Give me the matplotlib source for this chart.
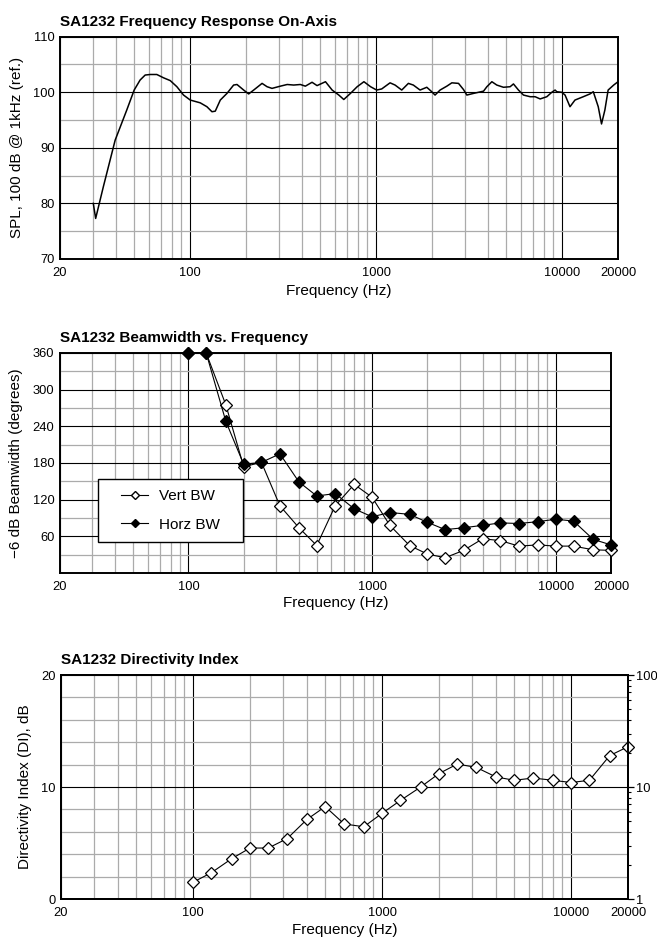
import matplotlib
matplotlib.use('Agg')
import matplotlib.pyplot as plt
from matplotlib.ticker import FixedLocator, FixedFormatter, NullFormatter, LogLocator
from matplotlib.patches import Rectangle
from matplotlib.lines import Line2D

plt.rcParams['font.family'] = ['Liberation Sans', 'DejaVu Sans']

# ---------------- data ----------------
fr_freq = [30.2, 31.1, 34.2, 39.6, 45.7, 50.1, 53.9, 57.4, 61.1, 66.3, 72.1, 78.3, 85, 92.3,
           100.3, 113.5, 123.3, 131.2, 136.7, 145.5, 158, 171.6, 178.9, 194.3, 206.7, 220,
           244, 259.6, 276, 306, 333, 361, 392, 417, 453, 482, 535, 581, 631, 671, 729, 792,
           861, 935, 1008, 1073, 1190, 1266, 1375, 1493, 1587, 1725, 1875, 1993, 2077, 2210,
           2403, 2557, 2777, 2952, 3079, 3345, 3785, 3945, 4197, 4460, 4844, 5262, 5482,
           5834, 6205, 6741, 7170, 7627, 8285, 8814, 9181, 9373, 9968, 10385, 11040, 11742,
           13010, 14130, 14730, 15660, 16310, 17000, 17700, 18960, 20000]
fr_spl = [80.0, 77.3, 83.0, 91.4, 96.8, 100.4, 102.2, 103.1, 103.2, 103.2, 102.6, 102.1, 101.0, 99.5,
          98.6, 98.1, 97.4, 96.5, 96.6, 98.6, 99.8, 101.3, 101.4, 100.4, 99.7, 100.4,
          101.6, 101.0, 100.7, 101.1, 101.4, 101.3, 101.4, 101.1, 101.8, 101.2, 101.9, 100.4, 99.5, 98.7, 99.8, 101.0,
          101.9, 101.0, 100.4, 100.6, 101.7, 101.3, 100.4, 101.6, 101.3, 100.4, 100.9, 100.1, 99.5, 100.4,
          101.1, 101.7, 101.6, 100.5, 99.5, 99.8, 100.2, 101.0, 101.9, 101.3, 100.9, 101.0, 101.5,
          100.4, 99.5, 99.2, 99.2, 98.8, 99.2, 100.0, 100.4, 100.1, 100.0, 99.5, 97.4, 98.6,
          99.2, 99.7, 100.1, 97.4, 94.3, 96.8, 100.4, 101.3, 101.9]

bw_freq = [100, 125, 160, 200, 250, 315, 400, 500, 630, 800, 1000, 1250, 1600, 2000,
           2500, 3150, 4000, 5000, 6300, 8000, 10000, 12500, 16000, 20000]
vert_bw = [360, 360, 275, 174, 181, 110, 74, 45, 110, 145, 124, 78, 45, 31,
           25, 37, 56, 53, 44, 46, 44, 44, 38, 37]
horz_bw = [360, 360, 248, 178, 181, 195, 149, 126, 130, 105, 92, 99, 96, 83,
           71, 74, 78, 82, 81, 84, 88, 85, 55, 46]

di_freq = [100, 125, 160, 200, 250, 315, 400, 500, 630, 800, 1000, 1250, 1600, 2000,
           2500, 3150, 4000, 5000, 6300, 8000, 10000, 12500, 16000, 20000]
di_vals = [1.5, 2.35, 3.6, 4.55, 4.55, 5.4, 7.1, 8.25, 6.7, 6.45, 7.65, 8.8, 10.0, 11.2,
           12.05, 11.75, 10.9, 10.6, 10.8, 10.6, 10.4, 10.6, 12.8, 13.6]

x_ticks = [20, 100, 1000, 10000, 20000]
x_ticklabels = ['20', '100', '1000', '10000', '20000']
x_minor = [m * 10 ** e for e in (1, 2, 3) for m in range(2, 10)
           if 20 < m * 10 ** e < 20000]

titles = ['SA1232 Frequency Response On-Axis', 'SA1232 Beamwidth vs. Frequency',
          'SA1232 Directivity Index']
ylabels = ['SPL, 100 dB @ 1kHz (ref.)', '\u22126 dB Beamwidth (degrees)',
           'Directivity Index (DI), dB']
xlabel = 'Frequency (Hz)'

GRAY = '#ababab'

fig = plt.figure(figsize=(6.57, 9.41), dpi=100)


def style(ax, ylim, ymaj, ymin, title, ylabel, ylab_x, xlab_y):
    ax.set_xscale('log')
    ax.set_xlim(20, 20000)
    ax.set_ylim(*ylim)
    ax.xaxis.set_major_locator(FixedLocator(x_ticks))
    ax.xaxis.set_major_formatter(FixedFormatter(x_ticklabels))
    ax.xaxis.set_minor_locator(FixedLocator(x_minor))
    ax.xaxis.set_minor_formatter(NullFormatter())
    ax.yaxis.set_major_locator(FixedLocator(ymaj))
    ax.yaxis.set_minor_locator(FixedLocator(ymin))
    ax.yaxis.set_minor_formatter(NullFormatter())
    ax.tick_params(which='both', length=0, labelsize=9.3)
    ax.tick_params(axis='y', pad=4)
    ax.tick_params(axis='x', pad=5.5)
    ax.set_axisbelow(True)
    ax.grid(which='minor', color=GRAY, lw=0.9)
    ax.grid(which='major', color='black', lw=0.8)
    for s in ax.spines.values():
        s.set_linewidth(1.4)
        s.set_color('black')
    ax.set_title(title, loc='left', fontsize=11, fontweight='bold', pad=8)
    ax.set_ylabel(ylabel, fontsize=11)
    ax.set_xlabel(xlabel, fontsize=11)
    ax.yaxis.set_label_coords(ylab_x, 0.5)
    ax.xaxis.set_label_coords(0.5, xlab_y)


# ---- top: frequency response ----
ax1 = fig.add_axes([60 / 657, 1 - 259 / 941, 558 / 657, 222.3 / 941])
style(ax1, (70, 110), [70, 80, 90, 100, 110], [75, 85, 95, 105],
      titles[0], ylabels[0], -0.064, -0.112)
ax1.plot(fr_freq, fr_spl, color='black', lw=1.1)

# ---- middle: beamwidth ----
ax2 = fig.add_axes([60 / 657, 1 - 573 / 941, 551 / 657, 220 / 941])
style(ax2, (0, 360), [60, 120, 180, 240, 300, 360], [30, 90, 150, 210, 270, 330],
      titles[1], ylabels[1], -0.068, -0.104)
ax2.plot(bw_freq, vert_bw, color='black', lw=0.8, marker='D', ms=5.8,
         mfc='white', mec='black', mew=0.9, zorder=3, clip_on=False)
ax2.plot(bw_freq, horz_bw, color='black', lw=0.8, marker='D', ms=6.2,
         mfc='black', mec='black', mew=0.9, zorder=4, clip_on=False)
ax2.add_patch(Rectangle((0.069, 0.141), 0.263, 0.286, transform=ax2.transAxes,
                        fc='white', ec='black', lw=1.0, zorder=5))
h_v = Line2D([], [], color='black', lw=0.8, marker='D', ms=4, mfc='white', mec='black')
h_h = Line2D([], [], color='black', lw=0.8, marker='D', ms=4, mfc='black', mec='black')
leg = ax2.legend(handles=[h_v, h_h], labels=['Vert BW', 'Horz BW'], loc='center',
                 bbox_to_anchor=(0.069 + 0.1315, 0.141 + 0.143), frameon=False,
                 fontsize=11, handlelength=1.8, handletextpad=0.7, labelspacing=0.95,
                 borderaxespad=0, borderpad=0)
leg.set_zorder(6)

# ---- bottom: directivity index ----
ax3 = fig.add_axes([61 / 657, 1 - 899 / 941, 567 / 657, 224 / 941])
style(ax3, (0, 20), [0, 10, 20], [2, 4, 6, 8, 12, 14, 16, 18],
      titles[2], ylabels[2], -0.052, -0.107)
ax3.plot(di_freq, di_vals, color='black', lw=0.8, marker='D', ms=6.5,
         mfc='white', mec='black', mew=0.9, zorder=3, clip_on=False)
ax3r = ax3.twinx()
ax3r.set_yscale('log')
ax3r.set_ylim(1, 100)
ax3r.yaxis.set_major_locator(FixedLocator([1, 10, 100]))
ax3r.yaxis.set_major_formatter(FixedFormatter(['1', '10', '100']))
ax3r.yaxis.set_minor_locator(LogLocator(base=10, subs=range(2, 10)))
ax3r.yaxis.set_minor_formatter(NullFormatter())
ax3r.tick_params(axis='y', which='major', direction='out', length=4, width=0.9,
                 labelsize=9.3, pad=2)
ax3r.tick_params(axis='y', which='minor', direction='out', length=2.5, width=0.8)
for s in ax3r.spines.values():
    s.set_linewidth(1.4)
# lift the bottom right label a little so it clears the x tick label below
ax3r.get_yticklabels()[0].set_verticalalignment('center_baseline')

fig.savefig('out.png', dpi=100)
